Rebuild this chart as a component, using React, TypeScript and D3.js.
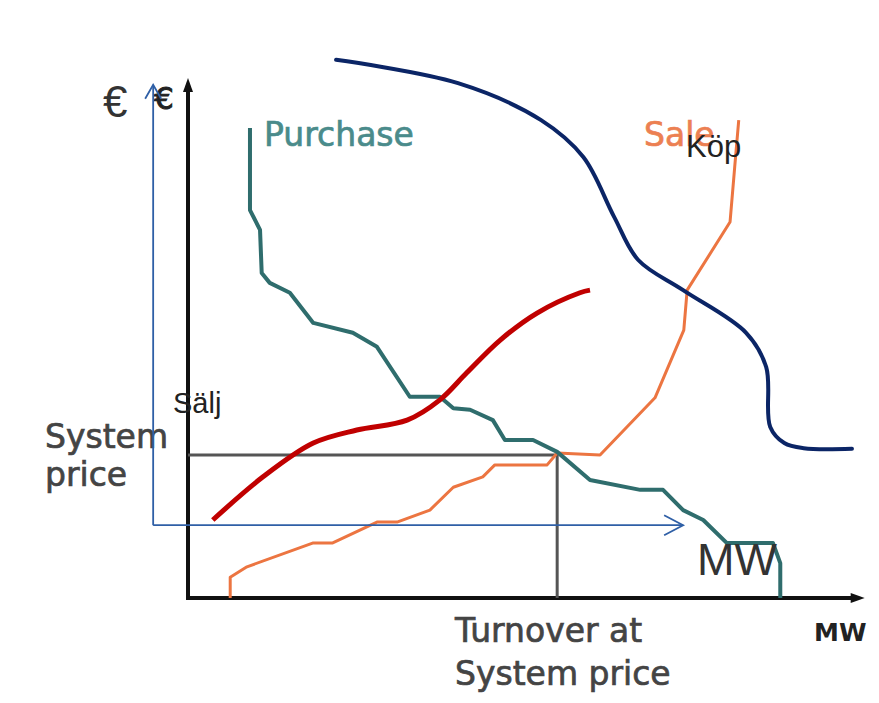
import React, { useEffect } from "react";
import * as d3 from "d3";

// Data in chart units: MW (x, 0..100) and price (y, 0..100)
const purchaseMW = [9.25, 9.25, 10.75, 11.0, 12.2, 15.2, 18.7, 24.6, 28.2, 33.1, 37.6, 39.6, 42.1, 45.5, 47.3, 51.5, 55.1, 60.0, 67.5, 70.9, 73.9, 76.9, 80.4, 87.3, 88.4, 88.4];
const purchasePrice = [90.4, 74.6, 70.8, 62.5, 60.6, 58.7, 52.9, 51.0, 48.3, 38.7, 38.7, 36.5, 36.2, 34.2, 30.4, 30.4, 28.1, 22.7, 20.8, 20.8, 16.9, 15.0, 10.6, 10.6, 6.7, 0];

const saleMW = [6.3, 6.3, 8.8, 18.7, 21.6, 28.2, 31.2, 36.1, 39.6, 44.0, 45.8, 53.6, 55.1, 61.5, 69.7, 74.0, 74.5, 80.9, 81.6, 82.2];
const salePrice = [0, 4.0, 6.0, 10.6, 10.6, 14.6, 14.6, 16.9, 21.3, 23.3, 25.6, 25.6, 27.9, 27.5, 38.5, 51.5, 59.2, 72.3, 82.9, 91.9];

// Hand-drawn annotation curves
const kopMW = [22.1, 40.3, 52.7, 59.0, 63.6, 67.2, 73.9, 83.3, 86.3, 86.9, 89.0, 91.9, 99.1];
const kopPrice = [103.5, 99.0, 91.9, 84.8, 73.3, 65.0, 59.2, 51.0, 44.4, 32.9, 29.8, 28.8, 28.7];

const saljMW = [3.7, 11.2, 18.7, 25.2, 32.7, 37.6, 41.6, 46.6, 52.1, 58.5, 60.0];
const saljPrice = [15.0, 23.3, 29.8, 32.3, 34.2, 38.1, 43.3, 49.6, 54.8, 58.7, 59.2];

const systemPrice = 27.5;
const turnoverMW = 55.1;

// overlay axis extents (chart units)
const overlayAxisX = -5.2;
const overlayAxisTop = 98.7;
const overlayAxisY = 14.0;
const overlayAxisRight = 73.9;

const labels = {
  purchase: "Purchase",
  sale: "Sale",
  systemPrice: ["System", "price"],
  turnover: ["Turnover at", "System price"],
  mwSmall: "MW",
  euroSmall: "€",
  euroBig: "€",
  mwBig: "MW",
  kop: "Köp",
  salj: "Sälj",
};

export default function App() {
  useEffect(() => {
    document.body.style.margin = "0";
  }, []);

  const W = 879, H = 703;
  const x = d3.scaleLinear().domain([0, 100]).range([188, 858]);
  const y = d3.scaleLinear().domain([0, 100]).range([598, 78]);

  const zip = (a: number[], b: number[]) => a.map((v, i) => [v, b[i]] as [number, number]);
  const lin = d3.line<[number, number]>().x(d => x(d[0])).y(d => y(d[1]));
  const smooth = d3.line<[number, number]>().x(d => x(d[0])).y(d => y(d[1])).curve(d3.curveCatmullRom.alpha(0.5));

  const x0 = x(0), y0 = y(0);
  const axTopY = y(100), axRightX = x(101);

  const ox = x(overlayAxisX), oy = y(overlayAxisY), oTop = y(overlayAxisTop), oRight = x(overlayAxisRight);
  const blue = "#2f5fa6";
  const vf = "DejaVu Sans, Verdana, sans-serif";
  const af = "Liberation Sans, Arial, sans-serif";

  return (
    <svg width={W} height={H} style={{ position: "absolute", left: 0, top: 0, background: "#fff" }} xmlns="http://www.w3.org/2000/svg">
      <rect x={0} y={0} width={W} height={H} fill="#fff" />
      {/* original chart axes */}
      <line x1={x0} y1={y0} x2={x0} y2={axTopY + 8} stroke="#111" strokeWidth={4} />
      <path d={`M${x0},${axTopY} L${x0 - 5},${axTopY + 14} L${x0 + 5},${axTopY + 14} Z`} fill="#111" />
      <line x1={x0 - 2} y1={y0} x2={axRightX - 8} y2={y0} stroke="#111" strokeWidth={4} />
      <path d={`M${axRightX},${y0} L${axRightX - 14},${y0 - 5} L${axRightX - 14},${y0 + 5} Z`} fill="#111" />

      {/* system price lines */}
      <line x1={x0} y1={y(systemPrice)} x2={x(turnoverMW)} y2={y(systemPrice)} stroke="#555" strokeWidth={3} />
      <line x1={x(turnoverMW)} y1={y(systemPrice)} x2={x(turnoverMW)} y2={y0} stroke="#555" strokeWidth={3} />

      {/* purchase & sale */}
      <path d={lin(zip(saleMW, salePrice)) || ""} fill="none" stroke="#ec7541" strokeWidth={3} strokeLinejoin="round" />
      <path d={lin(zip(purchaseMW, purchasePrice)) || ""} fill="none" stroke="#2f6d6d" strokeWidth={4} strokeLinejoin="round" />

      {/* original labels */}
      <g fontFamily={vf} fontSize={33}>
        <text x={264} y={146} fill="#4a8b8b" stroke="#4a8b8b" strokeWidth={0.7}>{labels.purchase}</text>
        <text x={644} y={146} fill="#ec8052" stroke="#ec8052" strokeWidth={0.7}>{labels.sale}</text>
        <text x={45} y={448} fill="#444" stroke="#444" strokeWidth={0.7}>{labels.systemPrice[0]}</text>
        <text x={45} y={486} fill="#444" stroke="#444" strokeWidth={0.7}>{labels.systemPrice[1]}</text>
        <text x={455} y={642} fill="#444" stroke="#444" strokeWidth={0.7}>{labels.turnover[0]}</text>
        <text x={455} y={685} fill="#444" stroke="#444" strokeWidth={0.7}>{labels.turnover[1]}</text>
      </g>
      <text x={814} y={641} fontFamily={vf} fontSize={25} fontWeight="bold" fill="#222">{labels.mwSmall}</text>
      <text x={154} y={109} fontFamily={vf} fontSize={31} fill="#222" stroke="#222" strokeWidth={1}>{labels.euroSmall}</text>

      {/* overlay annotations */}
      <path d={smooth(zip(kopMW, kopPrice)) || ""} fill="none" stroke="#0b2566" strokeWidth={4} strokeLinecap="round" />
      <path d={smooth(zip(saljMW, saljPrice)) || ""} fill="none" stroke="#c00000" strokeWidth={5} />

      <line x1={ox} y1={oy} x2={ox} y2={oTop} stroke={blue} strokeWidth={1.8} />
      <path d={`M${ox - 8},${oTop + 14} L${ox},${oTop} L${ox + 8},${oTop + 14}`} fill="none" stroke={blue} strokeWidth={1.8} />
      <line x1={ox} y1={oy} x2={oRight} y2={oy} stroke={blue} strokeWidth={1.8} />
      <path d={`M${oRight - 19},${oy - 10} L${oRight},${oy} L${oRight - 19},${oy + 10}`} fill="none" stroke={blue} strokeWidth={1.8} />

      <text x={103} y={117} fontFamily={af} fontSize={44} fill="#333">{labels.euroBig}</text>
      <text x={697} y={575} fontFamily={af} fontSize={45} fill="#333">{labels.mwBig}</text>
      <text x={686} y={157} fontFamily={af} fontSize={31} fill="#222">{labels.kop}</text>
      <text x={173} y={413} fontFamily={af} fontSize={29} fill="#222">{labels.salj}</text>
    </svg>
  );
}
